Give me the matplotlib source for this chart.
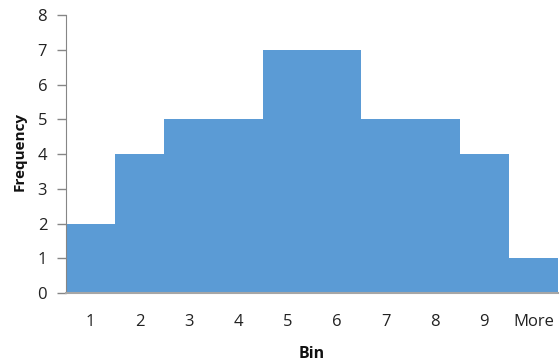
import matplotlib
matplotlib.use("Agg")
import matplotlib.pyplot as plt

bins = ["1", "2", "3", "4", "5", "6", "7", "8", "9", "More"]
frequency = [2, 4, 5, 5, 7, 7, 5, 5, 4, 1]
y_ticks = [0, 1, 2, 3, 4, 5, 6, 7, 8]

plt.rcParams['font.family'] = ['Open Sans', 'DejaVu Sans']

fig = plt.figure(figsize=(5.6, 3.63), dpi=100)
ax = fig.add_axes([66/560, 1-293/363, (558-66)/560, (293-15)/363])

x = list(range(len(bins)))
ax.bar(x, frequency, width=1.0, color="#5B9BD5", edgecolor="none")
ax.set_xlim(-0.5, len(bins)-0.5)
ax.set_ylim(0, 8)
ax.set_yticks(y_ticks)
ax.set_xticks(x)
ax.set_xticklabels(bins)

for s in ["top", "right"]:
    ax.spines[s].set_visible(False)
ax.spines["left"].set_color("#868686")
ax.spines["bottom"].set_color("#A6A6A6")
ax.spines["bottom"].set_linewidth(1.5)

ax.tick_params(axis="y", length=6.5, width=1, color="#868686", pad=7, labelsize=12, labelcolor="#222222")
ax.tick_params(axis="x", length=0, pad=15, labelsize=12, labelcolor="#222222")

ax.set_xlabel("Bin", fontsize=11.5, fontweight="bold", labelpad=12, color="#111111")
ax.set_ylabel("Frequency", fontsize=11, fontweight="bold", color="#111111")
ax.yaxis.set_label_coords(-0.08, 0.51)

fig.savefig("out.png", dpi=100)
